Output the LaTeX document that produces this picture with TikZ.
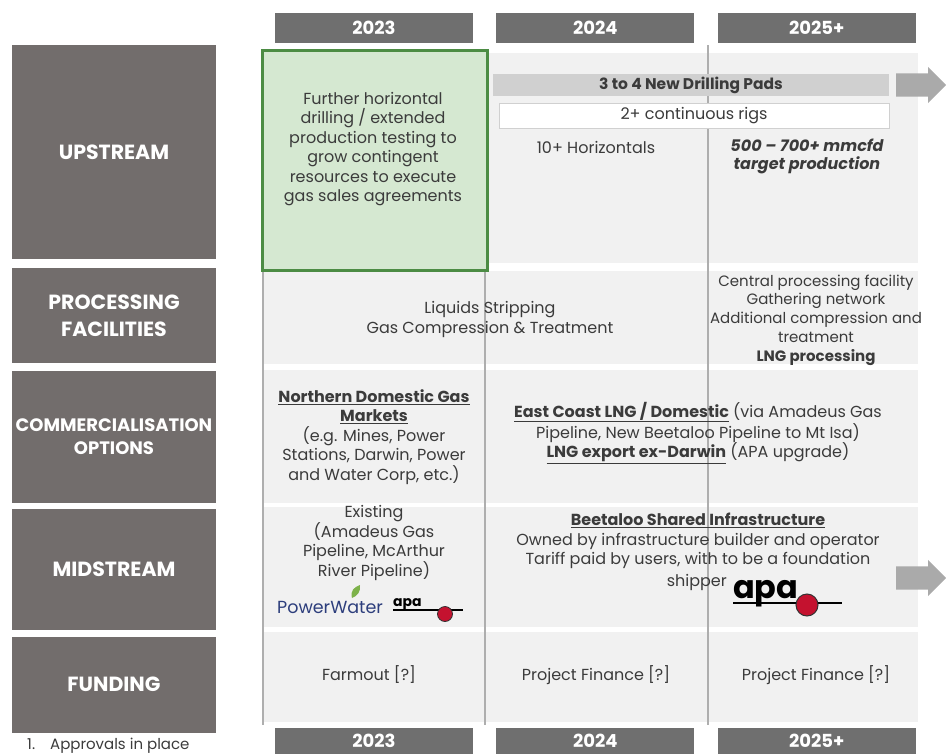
\documentclass[tikz,border=0pt]{standalone}
\usepackage{fontspec}
\setmainfont{Poppins}
\usetikzlibrary{positioning,shapes.arrows}
\definecolor{yeargray}{HTML}{6F6F6F}
\definecolor{rowgray}{HTML}{726D6C}
\definecolor{panelgray}{HTML}{F1F1F1}
\definecolor{bargray}{HTML}{D0D0D0}
\definecolor{arrowgray}{HTML}{AAAAAA}
\definecolor{linegray}{HTML}{AEAEAE}
\definecolor{bodytext}{HTML}{3B3B3B}
\definecolor{greenline}{HTML}{4C8C44}
\definecolor{greenfill}{HTML}{D5E8D1}
\definecolor{pwblue}{HTML}{2D3E7C}
\definecolor{pwgreen}{HTML}{7DB24A}
\definecolor{apared}{HTML}{C4122F}
\begin{document}
\begin{tikzpicture}[x=1pt,y=-1pt,
  year/.style={fill=yeargray,text=white,font=\bfseries\fontsize{18}{18}\selectfont,minimum width=198pt,minimum height=30pt,inner sep=0pt},
  rowhead/.style={fill=rowgray,text=white,font=\bfseries\fontsize{20.5}{27}\selectfont,align=center,minimum width=204pt,inner sep=0pt},
  panel/.style={fill=panelgray,minimum width=656pt,inner sep=0pt,anchor=north west},
  body/.style={text=bodytext,font=\fontsize{16}{19.5}\selectfont,align=center,inner sep=0pt},
  colline/.style={draw=linegray,line width=2pt},
  bigarrow/.style={single arrow,fill=arrowgray,inner sep=11.5pt,single arrow head extend=6.5pt,minimum height=50pt,anchor=tail}]
  \useasboundingbox (0,0) rectangle (946,755);
  \node[year](y23top) at (374,28){2023};
  \node[year](y24top)[right=23pt of y23top]{2024};
  \node[year](y25top)[right=23pt of y24top]{2025+};
  \node[year,minimum height=26pt](y23bot) at (374,741){2023};
  \node[year,minimum height=26pt](y24bot)[right=23pt of y23bot]{2024};
  \node[year,minimum height=26pt](y25bot)[right=23pt of y24bot]{2025+};
  \node[rowhead,minimum height=214pt](upstream) at (114,152){UPSTREAM};
  \node[rowhead,minimum height=95pt](processing)[below=9pt of upstream]{PROCESSING\\FACILITIES};
  \node[rowhead,minimum height=132pt,font=\bfseries\fontsize{18}{23}\selectfont](commercial)[below=7pt of processing]{COMMERCIALISATION\\OPTIONS};
  \node[rowhead,minimum height=121pt](midstream)[below=6pt of commercial]{MIDSTREAM};
  \node[rowhead,minimum height=96pt](funding)[below=6pt of midstream]{FUNDING};
  \node[text=bodytext,font=\fontsize{15}{15}\selectfont,anchor=west,inner sep=0pt](approvals) at (27,746){1.\hspace{15pt}Approvals in place};
  \node[panel,minimum height=210pt](uppanel) at (262,53){};
  \node[panel,minimum height=93pt](procpanel) at (262,271){};
  \node[panel,minimum height=133pt](commpanel) at (262,370){};
  \node[panel,minimum height=120pt](midpanel) at (262,507){};
  \node[panel,minimum height=90pt](fundpanel) at (262,632){};
  \draw[colline] (263,271) -- (263,725);
  \draw[colline] (485,271) -- (485,725);
  \draw[colline] (708,45) -- (708,725);
  \node[draw=greenline,line width=3pt,fill=greenfill,minimum width=225pt,minimum height=220pt,inner sep=0pt,anchor=north west](greenbox) at (260.5,48.5){};
  \node[body](drilling) at (373,149){Further horizontal\\drilling / extended\\production testing to\\grow contingent\\resources to execute\\gas sales agreements};
  \node[fill=bargray,minimum width=396pt,minimum height=22pt,inner sep=0pt,text=bodytext,font=\bfseries\fontsize{15.5}{15.5}\selectfont](pads) at (691,85){3 to 4 New Drilling Pads};
  \node[bigarrow](padsarrow) at (896,85){};
  \node[body,draw=bargray,fill=white,minimum width=390pt,minimum height=25pt](rigs) at (694,115.5){2+ continuous rigs};
  \node[body](horizontals) at (596,147){10+ Horizontals};
  \node[body,font=\bfseries\itshape\fontsize{16}{18}\selectfont](target) at (807,156){500 -- 700+ mmcfd\\target production};
  \node[body](liquids) at (490,319.5){Liquids Stripping\\Gas Compression \& Treatment};
  \node[body,font=\fontsize{15}{18.7}\selectfont](central) at (816,320){Central processing facility\\Gathering network\\Additional compression and\\treatment\\\textbf{LNG processing}};
  \node[body](northern) at (374,437){\textbf{\underline{Northern Domestic Gas}}\\\textbf{\underline{Markets}}\\(e.g. Mines, Power\\Stations, Darwin, Power\\and Water Corp, etc.)};
  \node[body](eastcoast) at (698,433){\textbf{\underline{East Coast LNG / Domestic}} (via Amadeus Gas\\Pipeline, New Beetaloo Pipeline to Mt Isa)\\\textbf{\underline{LNG export ex-Darwin}} (APA upgrade)};
  \node[body,font=\fontsize{16}{18.8}\selectfont](existing) at (374,543){Existing\\(Amadeus Gas\\Pipeline, McArthur\\River Pipeline)};
  \node[text=pwblue,font=\fontsize{17.5}{17.5}\selectfont,inner sep=0pt,anchor=west](powerwater) at (277,607){PowerWater};
  \fill[pwgreen] (352,598) .. controls (350,591) and (354,587) .. (360,585) .. controls (361,592) and (357,596) .. (352,598);
  \node[font=\bfseries\fontsize{14}{14}\selectfont,inner sep=0pt,anchor=base west](apasmall) at (393,606){apa};
  \draw[line width=1.4pt] (393,610) -- (463,610);
  \node[circle,fill=apared,draw=black!80,line width=0.8pt,minimum size=15pt,inner sep=0pt](dotsmall) at (445,614){};
  \node[body](beetaloo) at (698,541){\textbf{\underline{Beetaloo Shared Infrastructure}}\\Owned by infrastructure builder and operator\\Tariff paid by users, with to be a foundation};
  \node[body,anchor=east](shipper) at (727,582){shipper};
  \node[font=\bfseries\fontsize{32}{32}\selectfont,inner sep=0pt,anchor=base west](apabig) at (733,598){apa};
  \draw[line width=2.5pt] (733,603) -- (842,603);
  \node[circle,fill=apared,draw=black!80,line width=1pt,minimum size=22pt,inner sep=0pt](dotbig) at (807,605){};
  \node[bigarrow](midarrow) at (896,578){};
  \node[body](farmout) at (369,675){Farmout [?]};
  \node[body](finance24) at (596,675){Project Finance [?]};
  \node[body](finance25) at (816,675){Project Finance [?]};
\end{tikzpicture}
\end{document}
